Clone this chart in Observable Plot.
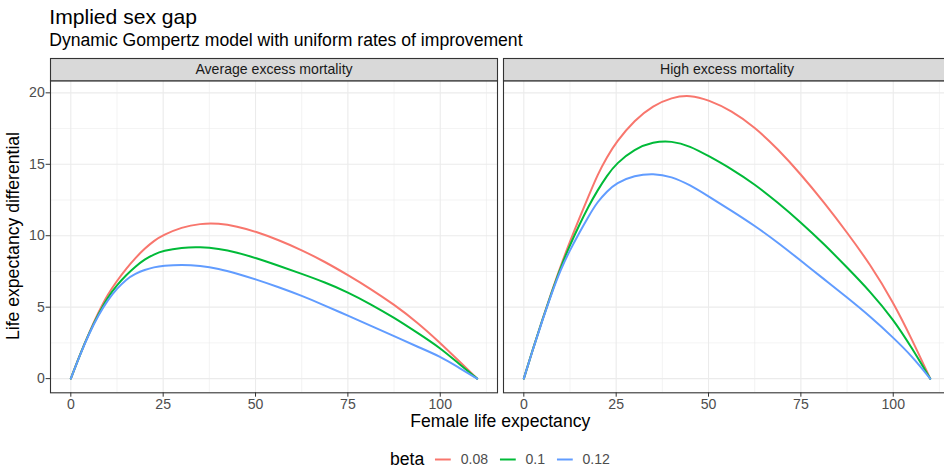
<!DOCTYPE html>
<html><head><meta charset="utf-8">
<script src="https://cdn.jsdelivr.net/npm/d3@7"></script>
<script src="https://cdn.jsdelivr.net/npm/@observablehq/plot@0.6"></script>
<style>
html,body{margin:0;padding:0;background:#fff;overflow:hidden;}
#wrap{position:relative;width:944px;height:471px;overflow:hidden;background:#fff;font-family:"Liberation Sans",Arial,Helvetica,sans-serif;}
.t{position:absolute;white-space:nowrap;line-height:1;}
#chart{position:absolute;left:0;top:50px;width:957px;}
#chart svg{max-width:none !important;}
#legend{position:absolute;top:449.3px;height:20px;left:500px;transform:translateX(-50%);display:flex;align-items:center;white-space:nowrap;line-height:1;}
</style></head><body><div id="wrap">
<div class="t" id="title" style="left:49.3px;top:6.4px;font-size:21.1px;color:#000;">Implied sex gap</div>
<div class="t" id="subtitle" style="left:49.3px;top:32.3px;font-size:17.6px;color:#000;">Dynamic Gompertz model with uniform rates of improvement</div>
<div id="chart"></div>
<div class="t" id="xtitle" style="left:500.3px;top:413.2px;font-size:17.6px;color:#000;transform:translateX(-50%);">Female life expectancy</div>
<div class="t" id="ytitle" style="left:14.4px;top:236.3px;font-size:17.6px;color:#000;transform:translate(-50%,-50%) rotate(-90deg);">Life expectancy differential</div>
<div id="legend"></div>
</div>
<script>
// ---- data ----
const panels = ["Average excess mortality", "High excess mortality"];
const betas = ["0.08", "0.1", "0.12"];
const colors = ["#F8766D", "#00BA38", "#619CFF"];

// female life expectancy grid (x), shared by every series
const xLE = [0, 2.5, 5, 7.5, 10, 12.5, 15, 17.5, 20, 22.5, 25, 30, 35, 40, 45, 50, 56.25, 62.5, 68.75, 75, 81.25, 87.5, 93.75, 100, 105, 110];

// Average excess mortality
const avg008 = [0, 1.7, 3.25, 4.65, 5.9, 6.85, 7.7, 8.45, 9.1, 9.65, 10.05, 10.6, 10.85, 10.87, 10.65, 10.3, 9.7, 9.0, 8.18, 7.25, 6.27, 5.18, 3.95, 2.5, 1.25, 0];
const avg010 = [0, 1.7, 3.22, 4.52, 5.7, 6.55, 7.25, 7.85, 8.35, 8.7, 8.95, 9.18, 9.22, 9.1, 8.83, 8.45, 7.9, 7.33, 6.74, 6.05, 5.2, 4.27, 3.22, 2.15, 1.05, 0];
const avg012 = [0, 1.68, 3.18, 4.45, 5.5, 6.3, 6.95, 7.35, 7.62, 7.8, 7.9, 7.97, 7.9, 7.7, 7.35, 6.95, 6.4, 5.8, 5.12, 4.4, 3.7, 2.98, 2.24, 1.55, 0.77, 0];

// High excess mortality
const high008 = [0, 2.1, 4.12, 6.05, 7.9, 9.6, 11.2, 12.75, 14.3, 15.5, 16.55, 18.1, 19.1, 19.68, 19.85, 19.5, 18.75, 17.6, 16.07, 14.3, 12.34, 10.23, 8.0, 5.35, 2.78, 0];
const high010 = [0, 2.1, 4.1, 6.0, 7.8, 9.35, 10.75, 12.05, 13.2, 14.2, 15.05, 16.08, 16.57, 16.64, 16.28, 15.58, 14.67, 13.6, 12.32, 10.93, 9.42, 7.78, 6.1, 4.16, 2.17, 0];
const high012 = [0, 2.08, 4.05, 5.95, 7.65, 9.0, 10.2, 11.35, 12.4, 13.1, 13.7, 14.22, 14.37, 14.15, 13.55, 12.75, 11.75, 10.7, 9.53, 8.25, 6.96, 5.68, 4.35, 2.87, 1.59, 0];

const xTicks = [0, 25, 50, 75, 100];
const xMinor = [12.5, 37.5, 62.5, 87.5, 112.5];
const yTicks = [0, 5, 10, 15, 20];
const yMinor = [2.5, 7.5, 12.5, 17.5];

// ---- long table for the library ----
const seriesSets = [
  {panel: panels[0], ys: [avg008, avg010, avg012]},
  {panel: panels[1], ys: [high008, high010, high012]}
];
const rows = [];
for (const s of seriesSets) {
  s.ys.forEach((arr, j) => arr.forEach((v, i) => rows.push({panel: s.panel, beta: betas[j], x: xLE[i], y: v})));
}

const W = 957, H = 380, mTop = 30.3, mBottom = 37.7, mLeft = 49.3, mRight = 6.1;
const panelH = H - mTop - mBottom;
const [xlo, xhi] = d3.extent(rows, d => d.x);
const [ylo, yhi] = d3.extent(rows, d => d.y);
const xPad = (xhi - xlo) * 0.05, yPad = (yhi - ylo) * 0.05;
const font = '"Liberation Sans", Arial, Helvetica, sans-serif';

const chart = Plot.plot({
  width: W, height: H,
  marginTop: mTop, marginBottom: mBottom, marginLeft: mLeft, marginRight: mRight,
  style: {fontFamily: font, fontSize: "14.1px", color: "#4D4D4D", background: "transparent", overflow: "visible", maxWidth: "none"},
  fx: {domain: panels, axis: null, label: null, paddingInner: 0.01366, paddingOuter: 0},
  x: {domain: [xlo - xPad, xhi + xPad], label: null},
  y: {domain: [ylo - yPad, yhi + yPad], label: null},
  color: {domain: betas, range: colors},
  marks: [
    Plot.gridX({ticks: xMinor, stroke: "#EBEBEB", strokeOpacity: 1, strokeWidth: 0.6}),
    Plot.gridY({ticks: yMinor, stroke: "#EBEBEB", strokeOpacity: 1, strokeWidth: 0.6}),
    Plot.gridX({ticks: xTicks, stroke: "#EBEBEB", strokeOpacity: 1, strokeWidth: 1.1}),
    Plot.gridY({ticks: yTicks, stroke: "#EBEBEB", strokeOpacity: 1, strokeWidth: 1.1}),
    Plot.line(rows, {fx: "panel", x: "x", y: "y", z: "beta", stroke: "beta", strokeWidth: 2, curve: "basis"}),
    Plot.frame({stroke: "#333333", strokeWidth: 1.1}),
    Plot.frame({fill: "#D9D9D9", stroke: "#333333", strokeWidth: 1.1, insetTop: -22.3, insetBottom: panelH}),
    Plot.text(panels, {fx: d => d, text: d => d, frameAnchor: "top", lineAnchor: "middle", dy: -11.15, fill: "#1A1A1A", fontSize: 14.1}),
    Plot.axisX({ticks: xTicks, tickSize: 4.4, tickPadding: 1.7, stroke: "#333333", fill: "#4D4D4D", fontSize: 14.1, label: null}),
    Plot.axisY({ticks: yTicks, tickSize: 4.4, tickPadding: 1.3, stroke: "#333333", fill: "#4D4D4D", fontSize: 14.1, label: null})
  ]
});
document.getElementById("chart").appendChild(chart);

// ---- legend ----
const colorScale = chart.scale("color");
const leg = document.getElementById("legend");
const lt = document.createElement("span");
lt.textContent = "beta";
lt.style.cssText = "font-size:17.6px;color:#000;margin-right:9px;";
leg.appendChild(lt);
betas.forEach((b, i) => {
  const ns = "http://www.w3.org/2000/svg";
  const svg = document.createElementNS(ns, "svg");
  svg.setAttribute("width", "19.6"); svg.setAttribute("height", "17");
  svg.style.display = "block";
  const ln = document.createElementNS(ns, "line");
  ln.setAttribute("x1", "1.9"); ln.setAttribute("x2", "17.7");
  ln.setAttribute("y1", "8.5"); ln.setAttribute("y2", "8.5");
  ln.setAttribute("stroke", colorScale.apply(b)); ln.setAttribute("stroke-width", "2");
  svg.appendChild(ln);
  leg.appendChild(svg);
  const tx = document.createElement("span");
  tx.textContent = b;
  tx.style.cssText = "font-size:14.1px;color:#4D4D4D;margin-left:7.8px;" + (i < betas.length - 1 ? "margin-right:10px;" : "");
  leg.appendChild(tx);
});
</script>
</body></html>
